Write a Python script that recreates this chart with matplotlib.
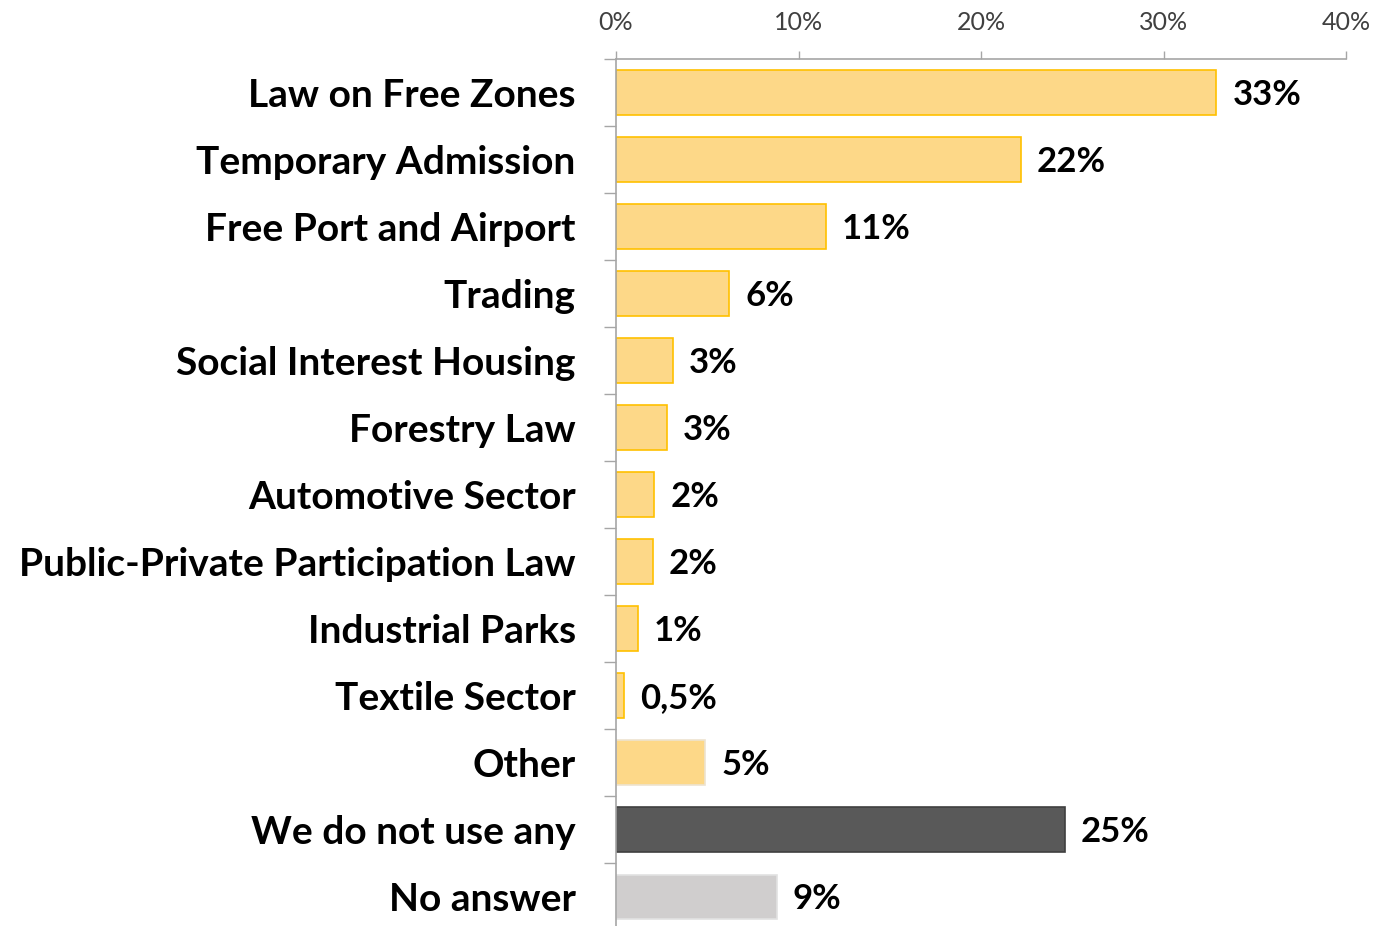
import numpy as np
import matplotlib.pyplot as plt

# survey answers, top to bottom
categories = ['Law on Free Zones', 'Temporary Admission', 'Free Port and Airport', 'Trading',
              'Social Interest Housing', 'Forestry Law', 'Automotive Sector',
              'Public-Private Participation Law', 'Industrial Parks', 'Textile Sector',
              'Other', 'We do not use any', 'No answer']
values = [32.9, 22.2, 11.5, 6.2, 3.1, 2.8, 2.1, 2.0, 1.2, 0.45, 4.9, 24.6, 8.8]
value_labels = ['33%', '22%', '11%', '6%', '3%', '3%', '2%', '2%', '1%', '0,5%', '5%', '25%', '9%']
xticks = [0, 10, 20, 30, 40]

fills = ['#FDD888'] * 11 + ['#595959', '#D0CECE']
edges = ['#FFC000'] * 10 + ['#EDE3D0', '#3F3F3F', '#E2E2E2']

W, H = 1379, 926
fig = plt.figure(figsize=(W / 100, H / 100), dpi=100)
ax = fig.add_axes([616 / W, -4.5 / H, 730 / W, 871.5 / H])

y = np.arange(len(categories))
bars = ax.barh(y, values, height=0.67, color=fills, edgecolor=edges, linewidth=1.2)

for b, lab in zip(bars, value_labels):
    ax.annotate(lab, (b.get_width(), b.get_y() + b.get_height() / 2),
                xytext=(11.5, -1.5), textcoords='offset points', va='center', ha='left',
                fontsize=25, fontweight='bold', family='Lato', color='black')

ax.set_xlim(0, 40)
ax.set_ylim(len(categories) - 0.5, -0.5)
ax.xaxis.tick_top()
ax.set_xticks(xticks)
ax.set_xticklabels([f'{t}%' for t in xticks], fontsize=18, family='Lato', color='#404040')
ax.tick_params(axis='x', direction='out', length=6, width=1, color='#A6A6A6', pad=12)

ax.set_yticks(y)
ax.set_yticklabels(categories, fontsize=28, fontweight='bold', family='Lato')
ax.tick_params(axis='y', which='major', length=0, pad=29)
ax.set_yticks(np.arange(len(categories) + 1) - 0.5, minor=True)
ax.tick_params(axis='y', which='minor', direction='out', length=9, width=1, color='#A6A6A6')

for s in ['right', 'bottom']:
    ax.spines[s].set_visible(False)
for s in ['left', 'top']:
    ax.spines[s].set_color('#A6A6A6')
    ax.spines[s].set_linewidth(1.2)

fig.savefig('out.png', dpi=100)
